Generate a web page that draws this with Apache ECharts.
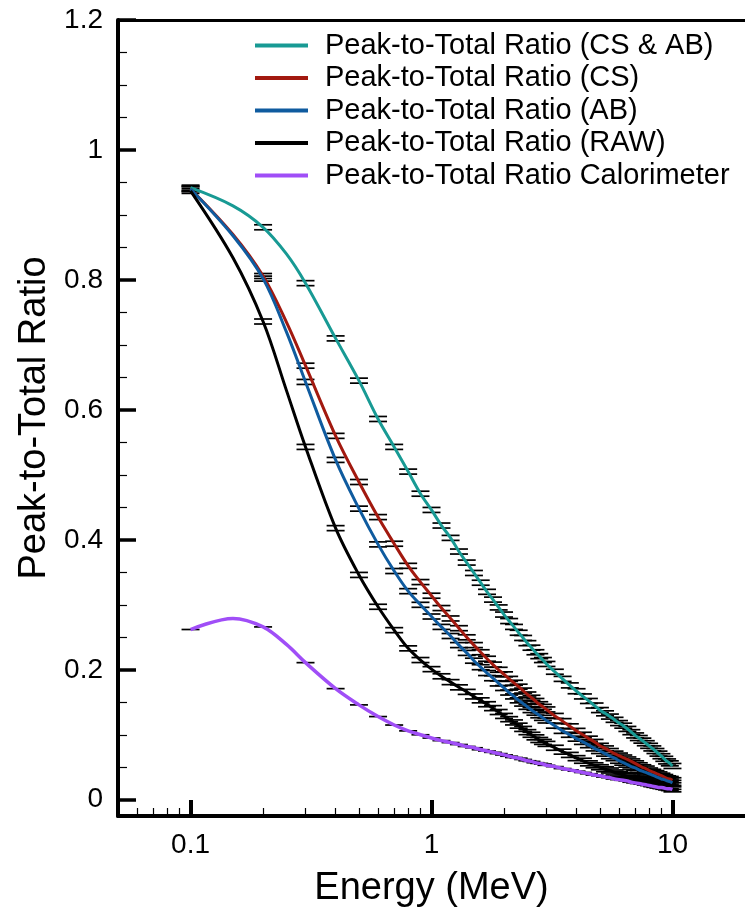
<!DOCTYPE html>
<html><head><meta charset="utf-8">
<script src="https://cdn.jsdelivr.net/npm/echarts@6/dist/echarts.min.js"></script>
<style>html,body{margin:0;padding:0;background:#fff}#c{width:745px;height:913px}</style>
</head><body><div id="c"></div>
<script>
// ---- data ----
const energy = [0.1,0.15,0.2,0.25,0.3,0.4,0.5,0.6,0.7,0.8,0.9,1.0,
  1.1,1.2,1.3,1.4,1.5,1.6,1.7,1.8,1.9,2.0,
  2.1,2.2,2.3,2.4,2.5,2.6,2.7,2.8,2.9,3.0,
  3.25,3.5,3.75,4.0,4.25,4.5,4.75,5.0,5.25,5.5,5.75,6.0,6.25,6.5,6.75,7.0,7.25,7.5,7.75,8.0,8.25,8.5,8.75,9.0,9.25,9.5,9.75,10.0];
const ptCSAB = [0.942,0.914,0.881,0.840,0.795,0.710,0.645,0.586,0.543,0.505,0.471,0.446,
  0.422,0.403,0.382,0.365,0.349,0.334,0.320,0.308,0.296,0.285,
  0.275,0.266,0.257,0.249,0.241,0.234,0.227,0.221,0.215,0.209,
  0.197,0.186,0.176,0.167,0.159,0.152,0.145,0.138,0.133,0.128,0.123,0.118,0.114,0.109,0.104,0.099,0.095,0.091,0.087,0.083,0.079,0.075,0.071,0.067,0.063,0.059,0.056,0.052];
const ptCS = [0.940,0.870,0.806,0.735,0.668,0.560,0.489,0.435,0.394,0.360,0.335,0.314,
  0.295,0.279,0.264,0.250,0.238,0.227,0.217,0.208,0.200,0.193,
  0.186,0.180,0.174,0.168,0.162,0.157,0.152,0.147,0.143,0.139,
  0.129,0.121,0.113,0.106,0.100,0.094,0.089,0.083,0.079,0.075,0.071,0.068,0.065,0.062,0.059,0.056,0.053,0.050,0.048,0.045,0.043,0.041,0.039,0.037,0.035,0.033,0.032,0.030];
const ptAB = [0.940,0.868,0.802,0.720,0.643,0.523,0.448,0.393,0.352,0.321,0.300,0.282,
  0.266,0.252,0.238,0.226,0.214,0.204,0.195,0.187,0.179,0.172,
  0.165,0.159,0.153,0.148,0.143,0.138,0.134,0.130,0.126,0.122,
  0.114,0.106,0.100,0.094,0.089,0.084,0.079,0.075,0.071,0.067,0.064,0.060,0.057,0.054,0.051,0.049,0.046,0.044,0.042,0.040,0.038,0.036,0.034,0.032,0.031,0.029,0.028,0.026];
const ptRAW = [0.937,0.834,0.736,0.630,0.543,0.418,0.346,0.297,0.261,0.233,0.215,0.201,
  0.190,0.181,0.173,0.166,0.159,0.153,0.147,0.141,0.135,0.129,
  0.124,0.119,0.114,0.109,0.104,0.100,0.096,0.092,0.089,0.086,
  0.080,0.074,0.069,0.064,0.060,0.056,0.053,0.050,0.047,0.045,0.042,0.040,0.038,0.036,0.034,0.032,0.030,0.029,0.027,0.026,0.024,0.023,0.022,0.021,0.020,0.019,0.018,0.016];
const ptCal = [0.262,0.279,0.266,0.239,0.211,0.171,0.146,0.128,0.115,0.106,0.100,0.095,
  0.091,0.088,0.085,0.082,0.080,0.077,0.075,0.073,0.071,0.069,
  0.067,0.065,0.064,0.062,0.060,0.059,0.057,0.056,0.055,0.053,
  0.051,0.048,0.046,0.044,0.042,0.040,0.038,0.037,0.035,0.034,0.032,0.031,0.030,0.029,0.027,0.026,0.025,0.024,0.023,0.022,0.021,0.020,0.019,0.019,0.018,0.017,0.017,0.016];
const noMarkerEnergy = [0.15, 0.25];
const seriesNames = ['Peak-to-Total Ratio (CS & AB)','Peak-to-Total Ratio (CS)','Peak-to-Total Ratio (AB)','Peak-to-Total Ratio (RAW)','Peak-to-Total Ratio Calorimeter'];
const xMajorTicks = [0.1, 1, 10];
const xMinorTicks = [0.06,0.07,0.08,0.09,0.2,0.3,0.4,0.5,0.6,0.7,0.8,0.9,2,3,4,5,6,7,8,9];
const yMajorTicks = [0,0.2,0.4,0.6,0.8,1,1.2];
const yMinorTicks = [0.05,0.1,0.15,0.25,0.3,0.35,0.45,0.5,0.55,0.65,0.7,0.75,0.85,0.9,0.95,1.05,1.1,1.15];

// ---- styles ----
const FONT = "'Liberation Sans', Arial, Helvetica, sans-serif";
const colors = ['#189a94','#a2190f','#0f5b9f','#000000','#a04ef7'];
const widths = [3,3,3,3,3.5];
const capGap = [2.5,2.5,2.5,2.5,0];
const allVals = [ptCSAB, ptCS, ptAB, ptRAW, ptCal];

function pairs(vals){ return energy.map((e,i)=>[e, vals[i]]); }
function markerSeries(vals, gap, idx){
  const data = [];
  energy.forEach((e,i)=>{ if(!noMarkerEnergy.includes(e)) data.push([e, vals[i]]); });
  return {
    type:'custom', name:'err'+idx, data, z:2, silent:true, clip:false,
    encode:{x:0,y:1},
    renderItem(params, api){
      const p = api.coord([api.value(0), api.value(1)]);
      const hw = 9;
      const offs = gap ? [-gap, gap] : [0];
      return {type:'group', children: offs.map(o=>({
        type:'line', shape:{x1:p[0]-hw, y1:p[1]+o, x2:p[0]+hw, y2:p[1]+o},
        style:{stroke:'#000', lineWidth:1.7}
      }))};
    }
  };
}

const series = [];
allVals.forEach((v,i)=>series.push(markerSeries(v, capGap[i], i)));
allVals.forEach((v,i)=>series.push({
  type:'line', name:seriesNames[i], data:pairs(v), smooth:0.35, showSymbol:false, symbol:'none',
  z:3, lineStyle:{color:colors[i], width:widths[i]}, itemStyle:{color:colors[i]}
}));

const chart = echarts.init(document.getElementById('c'), null, {renderer:'canvas'});
const xBase = {type:'log', logBase:10, min:0.05, max:20, gridIndex:0, splitLine:{show:false}, minorTick:{show:false}, minorSplitLine:{show:false}};
const yBase = {type:'value', min:-0.025, max:1.2, gridIndex:0, splitLine:{show:false}};
chart.setOption({
  backgroundColor:'#ffffff',
  animation:false,
  grid:{left:118, right:0, top:20, bottom:95, containLabel:false},
  legend:{
    left:250, top:26, orient:'vertical', icon:'rect', itemWidth:53, itemHeight:4, itemGap:3.5,
    textStyle:{fontFamily:FONT, fontSize:29, color:'#000', lineHeight:29, padding:[0,0,0,12]},
    data: seriesNames.map((n,i)=>({name:n, itemStyle:{color:colors[i]}}))
  },
  xAxis:[
    Object.assign({}, xBase, {
      position:'bottom',
      name:'Energy (MeV)', nameLocation:'middle', nameGap:54,
      nameTextStyle:{fontFamily:FONT, fontSize:38, color:'#000'},
      axisLine:{show:true, onZero:false, lineStyle:{color:'#000', width:4}},
      axisTick:{show:true, inside:true, length:16, customValues:xMajorTicks, lineStyle:{color:'#000', width:4}},
      axisLabel:{show:true, margin:15, customValues:xMajorTicks, fontFamily:FONT, fontSize:28, color:'#000',
        formatter:(v)=>String(+v.toPrecision(3))}
    }),
    Object.assign({}, xBase, {
      position:'bottom',
      axisLine:{show:false, onZero:false},
      axisTick:{show:true, inside:true, length:8, customValues:xMinorTicks, lineStyle:{color:'#000', width:1.2}},
      axisLabel:{show:false}
    }),
    Object.assign({}, xBase, {
      position:'top',
      axisLine:{show:true, onZero:false, lineStyle:{color:'#000', width:3}},
      axisTick:{show:false}, axisLabel:{show:false}
    })
  ],
  yAxis:[
    Object.assign({}, yBase, {
      position:'left',
      name:'Peak-to-Total Ratio', nameLocation:'middle', nameGap:62, nameRotate:90,
      nameTextStyle:{fontFamily:FONT, fontSize:38, color:'#000'},
      axisLine:{show:true, onZero:false, lineStyle:{color:'#000', width:4}},
      axisTick:{show:true, inside:true, length:18, customValues:yMajorTicks, lineStyle:{color:'#000', width:3.5}},
      axisLabel:{show:true, margin:15, customValues:yMajorTicks, fontFamily:FONT, fontSize:28, color:'#000',
        formatter:(v)=>String(+(+v).toFixed(2))}
    }),
    Object.assign({}, yBase, {
      position:'left',
      axisLine:{show:false, onZero:false},
      axisTick:{show:true, inside:true, length:9, customValues:yMinorTicks, lineStyle:{color:'#000', width:1.2}},
      axisLabel:{show:false}
    })
  ],
  series: series
});
</script>
</body></html>
